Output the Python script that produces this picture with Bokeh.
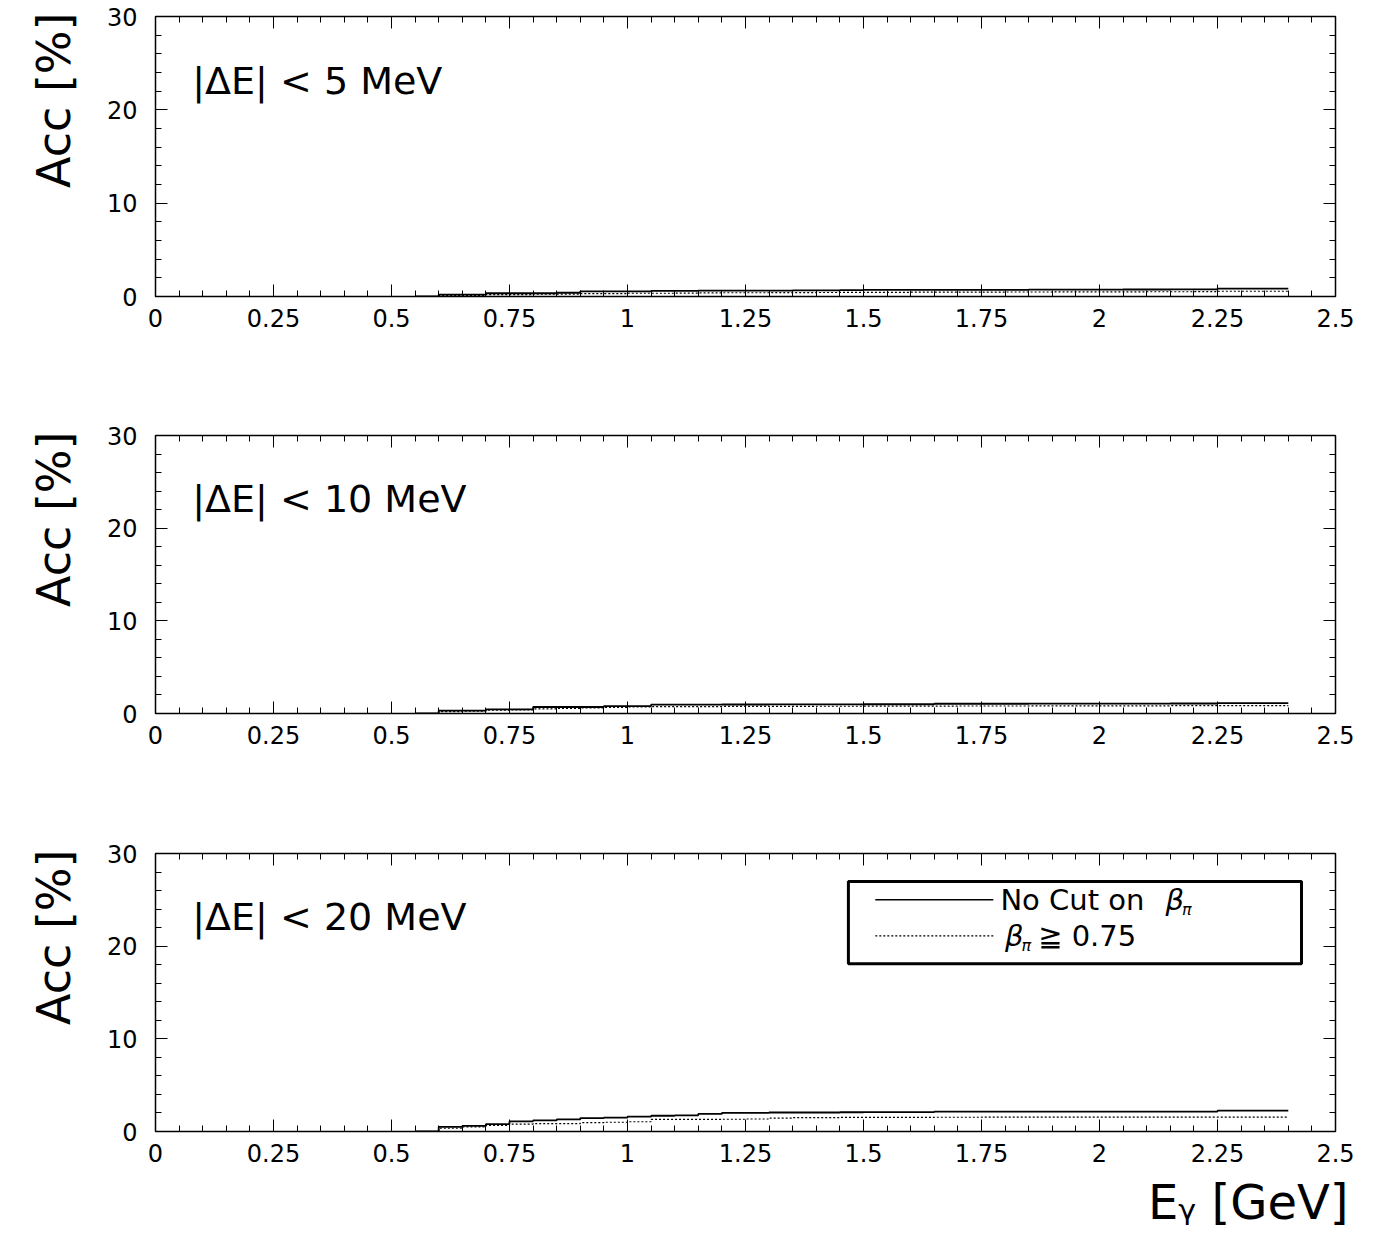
import numpy as np
from bokeh.plotting import figure
from bokeh.layouts import column
from bokeh.models import (Range1d, FixedTicker, LinearAxis, Label, BoxAnnotation, Title)
from bokeh.embed import file_html
from bokeh.resources import INLINE

# histogram bins (low edges, GeV), width 0.05, last bin ends at 2.40
bin_low = [round(0.55 + 0.05 * i, 2) for i in range(37)]
bin_high_end = 2.40

# acceptance [%] per bin, no cut on beta_pi
acc_5_nocut = [0.00, 0.20, 0.20, 0.35, 0.35, 0.35, 0.40, 0.55, 0.55, 0.55, 0.60, 0.60, 0.62,
               0.62, 0.64, 0.64, 0.66, 0.66, 0.68, 0.70, 0.70, 0.70, 0.72, 0.72, 0.72, 0.72,
               0.74, 0.74, 0.74, 0.74, 0.75, 0.75, 0.76, 0.76, 0.85, 0.85, 0.85]
acc_10_nocut = [0.00, 0.30, 0.30, 0.45, 0.45, 0.70, 0.70, 0.70, 0.80, 0.80, 0.95, 0.95, 0.96,
                0.97, 0.97, 0.98, 0.98, 0.99, 0.99, 1.00, 1.00, 1.00, 1.05, 1.05, 1.05, 1.05,
                1.06, 1.06, 1.06, 1.07, 1.07, 1.07, 1.08, 1.08, 1.12, 1.12, 1.12]
acc_20_nocut = [0.00, 0.50, 0.60, 0.80, 1.10, 1.20, 1.30, 1.45, 1.50, 1.60, 1.70, 1.75, 1.90,
                2.00, 2.00, 2.05, 2.05, 2.05, 2.08, 2.10, 2.10, 2.10, 2.15, 2.15, 2.15, 2.15,
                2.15, 2.15, 2.15, 2.15, 2.15, 2.15, 2.15, 2.15, 2.25, 2.25, 2.25]

# acceptance [%] per bin, beta_pi >= 0.75
acc_5_beta = [0.00, 0.10, 0.12, 0.20, 0.20, 0.25, 0.25, 0.30, 0.30, 0.35, 0.35, 0.36, 0.38,
              0.40, 0.40, 0.41, 0.42, 0.43, 0.44, 0.45, 0.45, 0.46, 0.46, 0.47, 0.47, 0.48,
              0.48, 0.49, 0.49, 0.50, 0.50, 0.51, 0.51, 0.52, 0.56, 0.56, 0.56]
acc_10_beta = [0.00, 0.20, 0.25, 0.35, 0.40, 0.50, 0.55, 0.60, 0.65, 0.70, 0.75, 0.75, 0.75,
               0.76, 0.76, 0.77, 0.77, 0.78, 0.78, 0.79, 0.80, 0.80, 0.80, 0.81, 0.81, 0.81,
               0.82, 0.82, 0.82, 0.83, 0.83, 0.83, 0.84, 0.84, 0.85, 0.85, 0.85]
acc_20_beta = [0.00, 0.35, 0.50, 0.65, 0.80, 0.85, 0.85, 0.95, 1.00, 1.05, 1.30, 1.30, 1.30,
               1.32, 1.35, 1.45, 1.50, 1.50, 1.52, 1.52, 1.53, 1.53, 1.54, 1.54, 1.55, 1.55,
               1.55, 1.55, 1.55, 1.55, 1.55, 1.55, 1.55, 1.55, 1.55, 1.55, 1.55]

cut_labels = ["|\u0394E| < 5 MeV", "|\u0394E| < 10 MeV", "|\u0394E| < 20 MeV"]

x_ticks = [0, 0.25, 0.5, 0.75, 1, 1.25, 1.5, 1.75, 2, 2.25, 2.5]
x_tick_text = ["0", "0.25", "0.5", "0.75", "1", "1.25", "1.5", "1.75", "2", "2.25", "2.5"]
y_ticks = [0, 10, 20, 30]

FONT = "DejaVu Sans"


def style_axis(ax, ticks, minor, show_labels):
    ax.ticker = FixedTicker(ticks=ticks, minor_ticks=minor)
    ax.major_tick_in = 12
    ax.major_tick_out = 0
    ax.minor_tick_in = 6
    ax.minor_tick_out = 0
    ax.axis_line_color = None
    ax.major_tick_line_color = "black"
    ax.minor_tick_line_color = "black"
    ax.major_tick_line_width = 1
    ax.minor_tick_line_width = 1
    ax.major_label_text_font = FONT
    ax.major_label_text_color = "black"
    ax.major_label_text_font_size = "24px"
    if not show_labels:
        # mirrored frame ticks only, no numbers
        ax.major_label_overrides = {t: "" for t in ticks}
        ax.major_label_standoff = 0


def make_panel(nocut, beta, label, height, top, bottom, legend=False, xtitle=False):
    p = figure(width=1379, height=height, output_backend="svg", toolbar_location=None,
               x_range=Range1d(0, 2.5), y_range=Range1d(0, 30),
               min_border_left=155, min_border_right=44,
               min_border_top=top, min_border_bottom=bottom,
               x_axis_location=None, y_axis_location=None)
    p.grid.visible = False
    p.outline_line_color = "black"
    p.outline_line_width = 1.5
    p.background_fill_color = "white"
    p.border_fill_color = "white"

    x_minor = [round(0.05 * i, 2) for i in range(51)]
    y_minor = list(range(0, 31, 2))

    xb = LinearAxis()
    style_axis(xb, x_ticks, x_minor, True)
    xb.major_label_overrides = {t: s for t, s in zip(x_ticks, x_tick_text)}
    xb.major_label_standoff = 12
    p.add_layout(xb, "below")
    if xtitle:
        p.add_layout(Title(text="E\u1d67 [GeV]", align="right", offset=-13, standoff=15,
                           text_font=FONT, text_font_size="48px", text_font_style="normal",
                           text_color="black"), "below")

    xt = LinearAxis()
    style_axis(xt, x_ticks, x_minor, False)
    p.add_layout(xt, "above")

    yl = LinearAxis()
    style_axis(yl, y_ticks, y_minor, True)
    yl.major_label_standoff = 18
    p.add_layout(yl, "left")
    p.add_layout(Title(text="Acc [%]", align="right", offset=-4, standoff=46,
                       text_font=FONT, text_font_size="46px", text_font_style="normal",
                       text_color="black"), "left")

    yr = LinearAxis()
    style_axis(yr, y_ticks, y_minor, False)
    p.add_layout(yr, "right")

    xs = bin_low + [bin_high_end]
    p.step(xs, nocut + [nocut[-1]], mode="after", line_color="black", line_width=1.8)
    p.step(xs, beta + [beta[-1]], mode="after", line_color="black", line_width=1.2,
           line_dash="2 2")

    p.add_layout(Label(x=0.078, y=23.1, text=label, text_font=FONT, text_font_size="38px",
                       text_baseline="middle", text_color="black"))

    if legend:
        p.add_layout(BoxAnnotation(left=1.468, right=2.428, bottom=18.1, top=26.97,
                                   fill_alpha=0, line_color="black", line_alpha=1,
                                   line_width=3))
        p.segment(x0=[1.525, 1.525], x1=[1.775, 1.775], y0=[25.0, 21.1], y1=[25.0, 21.1],
                  line_color="black", line_width=[1.5, 1.2], line_dash=["solid", "2 2"])
        tsize = "29px"
        common = dict(text_font=FONT, text_baseline="middle", text_color="black")
        p.add_layout(Label(x=1.790, y=25.0, text="No Cut on", text_font_size=tsize, **common))
        p.add_layout(Label(x=2.140, y=25.0, text="\u03b2", text_font_size=tsize,
                           text_font_style="italic", **common))
        p.add_layout(Label(x=2.175, y=24.0, text="\u03c0", text_font_size="16px",
                           text_font_style="italic", **common))
        p.add_layout(Label(x=1.800, y=21.1, text="\u03b2", text_font_size=tsize,
                           text_font_style="italic", **common))
        p.add_layout(Label(x=1.835, y=20.1, text="\u03c0", text_font_size="16px",
                           text_font_style="italic", **common))
        p.add_layout(Label(x=1.870, y=21.1, text="\u2267 0.75", text_font_size=tsize, **common))
    return p


p1 = make_panel(acc_5_nocut, acc_5_beta, cut_labels[0], 419, 16, 123)
p2 = make_panel(acc_10_nocut, acc_10_beta, cut_labels[1], 419, 16, 125)
p3 = make_panel(acc_20_nocut, acc_20_beta, cut_labels[2], 399, 15, 106, legend=True, xtitle=True)

layout = column(p1, p2, p3, spacing=0)
open("out.html", "w").write(file_html(layout, INLINE))
